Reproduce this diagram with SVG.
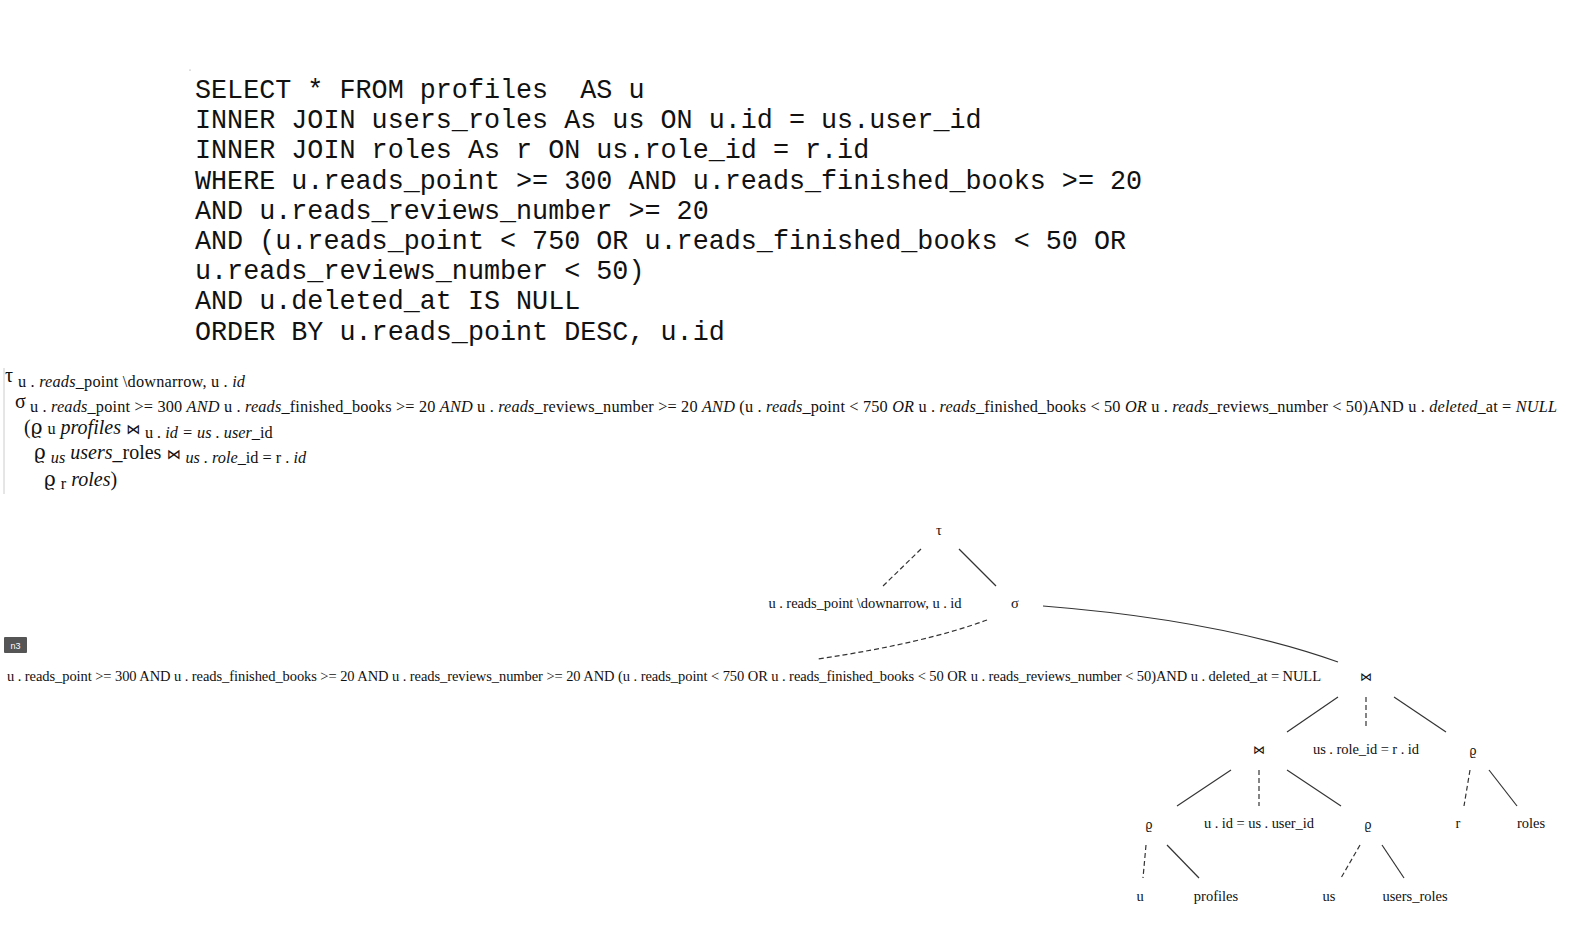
<svg xmlns="http://www.w3.org/2000/svg" width="1582" height="932" viewBox="0 0 1582 932">
<style>
.sql{font-family:"Liberation Mono","DejaVu Sans Mono",monospace;font-size:26.75px;fill:#111;}
.ra{font-family:"Liberation Serif","DejaVu Serif",serif;fill:#111;}
.big{font-size:20px;}
.sub{font-size:16.3px;}
.i{font-style:italic;}
.g{font-family:"DejaVu Serif",serif;font-style:normal;}
.bt{font-family:"DejaVu Sans",sans-serif;font-size:14px;}
.t{font-family:"Liberation Serif","DejaVu Serif",serif;font-size:14.5px;fill:#111;text-anchor:middle;}
.tg{font-family:"DejaVu Serif",serif;font-size:12px;fill:#111;text-anchor:middle;}
.e{fill:none;stroke:#333;stroke-width:1.2;}
.d{stroke-dasharray:5,3;}
</style>
<rect width="1582" height="932" fill="#fff"/>
<g id="sql">
<circle cx="190" cy="70" r="0.6" fill="#888"/>
<text class="sql" x="195" y="98" xml:space="preserve">SELECT * FROM profiles  AS u</text>
<text class="sql" x="195" y="128">INNER JOIN users_roles As us ON u.id = us.user_id</text>
<text class="sql" x="195" y="158">INNER JOIN roles As r ON us.role_id = r.id</text>
<text class="sql" x="195" y="189">WHERE u.reads_point &gt;= 300 AND u.reads_finished_books &gt;= 20</text>
<text class="sql" x="195" y="219">AND u.reads_reviews_number &gt;= 20</text>
<text class="sql" x="195" y="249">AND (u.reads_point &lt; 750 OR u.reads_finished_books &lt; 50 OR</text>
<text class="sql" x="195" y="279">u.reads_reviews_number &lt; 50)</text>
<text class="sql" x="195" y="309">AND u.deleted_at IS NULL</text>
<text class="sql" x="195" y="340">ORDER BY u.reads_point DESC, u.id</text>
</g>
<g id="algebra">
<line x1="4" y1="368" x2="4" y2="494" stroke="#ccc" stroke-width="1"/>
<text class="ra big" x="5" y="382">τ</text>
<text class="ra sub" x="18" y="387" textLength="227" lengthAdjust="spacing" xml:space="preserve">u . <tspan class="i">reads</tspan>_point \downarrow, u . <tspan class="i">id</tspan></text>
<text class="ra big" x="15" y="408">σ</text>
<text class="ra sub" x="30" y="412" textLength="1527" lengthAdjust="spacing" xml:space="preserve">u . <tspan class="i">reads</tspan>_point &gt;= 300 <tspan class="i">AND</tspan> u . <tspan class="i">reads</tspan>_finished_books &gt;= 20 <tspan class="i">AND</tspan> u . <tspan class="i">reads</tspan>_reviews_number &gt;= 20 <tspan class="i">AND</tspan> (u . <tspan class="i">reads</tspan>_point &lt; 750 <tspan class="i">OR</tspan> u . <tspan class="i">reads</tspan>_finished_books &lt; 50 <tspan class="i">OR</tspan> u . <tspan class="i">reads</tspan>_reviews_number &lt; 50)AND u . <tspan class="i">deleted</tspan>_at = <tspan class="i">NULL</tspan></text>
<text class="ra big" x="24" y="434" xml:space="preserve">(<tspan class="g">ϱ</tspan> <tspan class="sub">u</tspan> <tspan class="i">profiles</tspan> <tspan class="bt">⋈</tspan> <tspan class="sub" dy="4">u <tspan class="i">. id = us . user</tspan>_id</tspan></text>
<text class="ra big" x="34" y="459" xml:space="preserve"><tspan class="g">ϱ</tspan> <tspan class="sub i" dy="4">us</tspan> <tspan dy="-4"><tspan class="i">users</tspan>_roles <tspan class="bt">⋈</tspan></tspan> <tspan class="sub" dy="4"><tspan class="i">us . role</tspan>_id = r . <tspan class="i">id</tspan></tspan></text>
<text class="ra big" x="44" y="486" xml:space="preserve"><tspan class="g">ϱ</tspan> <tspan class="sub" dy="3">r</tspan> <tspan dy="-3"><tspan class="i">roles</tspan>)</tspan></text>
</g>
<g id="edges">
<line class="e d" x1="921" y1="549" x2="883" y2="586"/>
<line class="e" x1="959" y1="549" x2="996" y2="586"/>
<path class="e d" d="M987,620 Q925,643 818,659"/>
<path class="e" d="M1043,606 Q1220,620 1338,662"/>
<line class="e" x1="1338" y1="697" x2="1287" y2="732"/>
<line class="e d" x1="1366" y1="697" x2="1366" y2="729"/>
<line class="e" x1="1394" y1="697" x2="1446" y2="732"/>
<line class="e" x1="1231" y1="770" x2="1177" y2="806"/>
<line class="e d" x1="1259" y1="770" x2="1259" y2="806"/>
<line class="e" x1="1287" y1="770" x2="1341" y2="806"/>
<line class="e d" x1="1470" y1="770" x2="1464" y2="806"/>
<line class="e" x1="1489" y1="770" x2="1517" y2="806"/>
<line class="e d" x1="1146" y1="845" x2="1143" y2="878"/>
<line class="e" x1="1167" y1="845" x2="1199" y2="878"/>
<line class="e d" x1="1360" y1="845" x2="1341" y2="878"/>
<line class="e" x1="1382" y1="845" x2="1404" y2="878"/>
</g>
<g id="n1"><text class="t" x="939" y="535">τ</text></g>
<g id="n2"><text class="t" x="865" y="608" textLength="193" lengthAdjust="spacing">u . reads_point \downarrow, u . id</text></g>
<g id="n4"><text class="t" x="1015" y="608">σ</text></g>
<g id="n3">
<rect x="4" y="637" width="23" height="16" rx="1" fill="#555"/>
<text x="15.5" y="648.5" font-family="'Liberation Sans',Arial,sans-serif" font-size="9" fill="#fff" text-anchor="middle">n3</text>
<text class="t" x="664" y="681" textLength="1314" lengthAdjust="spacing">u . reads_point &gt;= 300 AND u . reads_finished_books &gt;= 20 AND u . reads_reviews_number &gt;= 20 AND (u . reads_point &lt; 750 OR u . reads_finished_books &lt; 50 OR u . reads_reviews_number &lt; 50)AND u . deleted_at = NULL</text>
</g>
<g id="n5"><text class="tg" x="1366" y="681">⋈</text></g>
<g id="n6"><text class="tg" x="1259" y="754">⋈</text></g>
<g id="n7"><text class="t" x="1366" y="754" textLength="106" lengthAdjust="spacing">us . role_id = r . id</text></g>
<g id="n8"><text class="tg" x="1473" y="755">ϱ</text></g>
<g id="n9"><text class="tg" x="1149" y="829">ϱ</text></g>
<g id="n10"><text class="t" x="1259" y="828" textLength="110" lengthAdjust="spacing">u . id = us . user_id</text></g>
<g id="n11"><text class="tg" x="1368" y="829">ϱ</text></g>
<g id="n12"><text class="t" x="1458" y="828">r</text></g>
<g id="n13"><text class="t" x="1531" y="828">roles</text></g>
<g id="n14"><text class="t" x="1140" y="901">u</text></g>
<g id="n15"><text class="t" x="1216" y="901">profiles</text></g>
<g id="n16"><text class="t" x="1329" y="901">us</text></g>
<g id="n17"><text class="t" x="1415" y="901">users_roles</text></g>
</svg>
